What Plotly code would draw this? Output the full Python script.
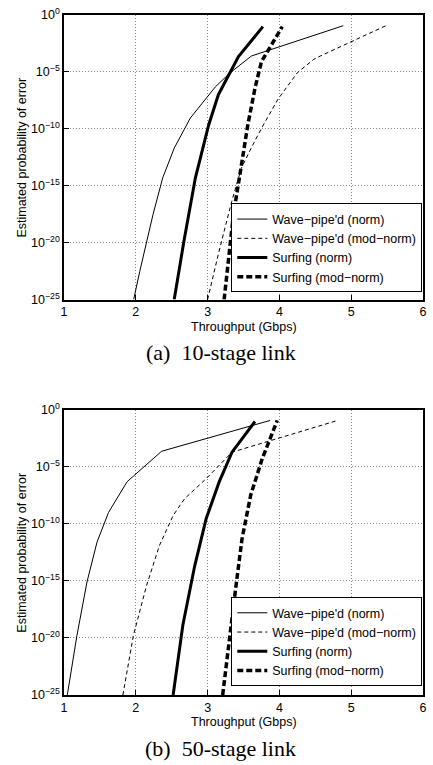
import plotly.graph_objects as go

# ---------------- data: (a) 10-stage link ----------------
a_wave_norm_x = [1.97, 2.055, 2.24, 2.375, 2.535, 2.76, 3.11, 3.31, 3.61, 4.89]
a_wave_norm_p = [1e-25, 3e-23, 3e-18, 5e-15, 2e-12, 9e-10, 5e-7, 8e-6, 2.5e-4, 0.115]

a_wave_mod_x = [3.0, 3.15, 3.335, 3.47, 3.61, 3.75, 3.98, 4.25, 4.48, 4.57, 5.49]
a_wave_mod_p = [1e-25, 1e-21, 4e-17, 3.5e-14, 2.2e-12, 1.1e-10, 4e-8, 8.5e-6, 1.3e-4, 2.5e-4, 0.12]

a_surf_norm_x = [2.535, 2.67, 2.83, 3.015, 3.15, 3.29, 3.43, 3.77]
a_surf_norm_p = [1e-25, 1.3e-20, 5e-15, 2.2e-10, 1e-7, 5.5e-6, 2.2e-4, 0.095]

a_surf_mod_x = [3.23, 3.36, 3.47, 3.56, 3.66, 3.75, 4.04]
a_surf_mod_p = [1e-25, 3e-18, 6e-14, 2.2e-10, 3.7e-7, 8e-5, 0.095]

# ---------------- data: (b) 50-stage link ----------------
b_wave_norm_x = [1.046, 1.18, 1.32, 1.46, 1.62, 1.88, 2.36, 3.87]
b_wave_norm_p = [1e-25, 1.6e-20, 8e-16, 2.5e-12, 1e-9, 5e-7, 2.3e-4, 0.115]

b_wave_mod_x = [1.82, 1.966, 2.15, 2.33, 2.52, 2.68, 2.98, 3.34, 4.81]
b_wave_mod_p = [1e-25, 1.6e-20, 4e-16, 1.3e-12, 5.4e-10, 1.6e-8, 9e-7, 1.9e-4, 0.115]

b_surf_norm_x = [2.52, 2.655, 2.82, 2.98, 3.16, 3.34, 3.66]
b_surf_norm_p = [1e-25, 1.3e-19, 2e-14, 2.8e-10, 4.5e-7, 1.9e-4, 0.093]

b_surf_mod_x = [3.21, 3.30, 3.39, 3.48, 3.60, 3.76, 3.97]
b_surf_mod_p = [1e-25, 8e-21, 2e-16, 5e-12, 3.2e-8, 5e-5, 0.115]

series_names = ["Wave\u2212pipe'd (norm)", "Wave\u2212pipe'd (mod\u2212norm)",
                "Surfing (norm)", "Surfing (mod\u2212norm)"]
x_ticks = [1, 2, 3, 4, 5, 6]
y_tick_vals = [1e-25, 1e-20, 1e-15, 1e-10, 1e-5, 1]
y_tick_text = ["10<sup>\u221225</sup>", "10<sup>\u221220</sup>", "10<sup>\u221215</sup>",
               "10<sup>\u221210</sup>", "10<sup>\u22125</sup>", "10<sup>0</sup>"]
captions = ["(a)  10-stage link", "(b)  50-stage link"]
x_title = "Throughput (Gbps)"
y_title = "Estimated probability of error"

styles = [dict(width=1, dash="solid"),
          dict(width=1, dash="4px,3px"),
          dict(width=3, dash="solid"),
          dict(width=3.5, dash="6px,3px")]

FONT = "Liberation Sans, Arial, Helvetica, sans-serif"
SERIF = "Liberation Serif, Times New Roman, serif"
FS = 12.5
fig = go.Figure()

panels = [
    ("x", "y", "legend", [(a_wave_norm_x, a_wave_norm_p), (a_wave_mod_x, a_wave_mod_p),
                          (a_surf_norm_x, a_surf_norm_p), (a_surf_mod_x, a_surf_mod_p)]),
    ("x2", "y2", "legend2", [(b_wave_norm_x, b_wave_norm_p), (b_wave_mod_x, b_wave_mod_p),
                             (b_surf_norm_x, b_surf_norm_p), (b_surf_mod_x, b_surf_mod_p)]),
]
for xa, ya, lg, data in panels:
    for (xs, ps), name, st in zip(data, series_names, styles):
        fig.add_trace(go.Scatter(x=xs, y=ps, mode="lines", name=name, xaxis=xa, yaxis=ya,
                                 legend=lg, line=dict(color="black", width=st["width"],
                                                      dash=st["dash"])))

axis_common = dict(showline=True, linecolor="black", linewidth=1.5, mirror=True,
                   ticks="inside", ticklen=5, tickcolor="black", tickwidth=1,
                   showgrid=True, gridcolor="#888888", griddash="1px,2px", gridwidth=1,
                   zeroline=False, tickfont=dict(family=FONT, size=FS, color="black"))

top_dom = [0.5815, 1.0]
bot_dom = [0.0, 0.4195]

legend_common = dict(xanchor="right", yanchor="bottom", bgcolor="white",
                     bordercolor="black", borderwidth=1, tracegroupgap=0,
                     font=dict(family=FONT, size=FS, color="black"))

fig.update_layout(
    width=433, height=765, paper_bgcolor="white", plot_bgcolor="white",
    margin=dict(l=64, r=6, t=14, b=70),
    showlegend=True,
    xaxis=dict(domain=[0, 1], anchor="y", range=[1, 6], tickvals=x_ticks, **axis_common),
    yaxis=dict(domain=top_dom, anchor="x", type="log", range=[-25, 0],
               tickvals=y_tick_vals, ticktext=y_tick_text, **axis_common),
    xaxis2=dict(domain=[0, 1], anchor="y2", range=[1, 6], tickvals=x_ticks, **axis_common),
    yaxis2=dict(domain=bot_dom, anchor="x2", type="log", range=[-25, 0],
                tickvals=y_tick_vals, ticktext=y_tick_text, **axis_common),
    legend=dict(x=0.998, y=0.592, **legend_common),
    legend2=dict(x=0.998, y=0.013, **legend_common),
)

def label(text, x, y, angle=0, family=FONT, size=FS):
    return dict(text=text, x=x, y=y, xref="paper", yref="paper", xanchor="center",
                yanchor="middle", textangle=angle, showarrow=False,
                font=dict(family=family, size=size, color="black"))

ann = [
    label(x_title, 0.5, 0.5405),
    label(x_title, 0.5, -0.0395),
    label(y_title, -0.1157, 0.791, angle=-90),
    label(y_title, -0.1157, 0.21, angle=-90),
    label(captions[0], 0.4366, 0.5037, family=SERIF, size=22),
    label(captions[1], 0.4366, -0.0793, family=SERIF, size=22),
]
fig.update_layout(annotations=ann)

fig.write_html("out.html")
